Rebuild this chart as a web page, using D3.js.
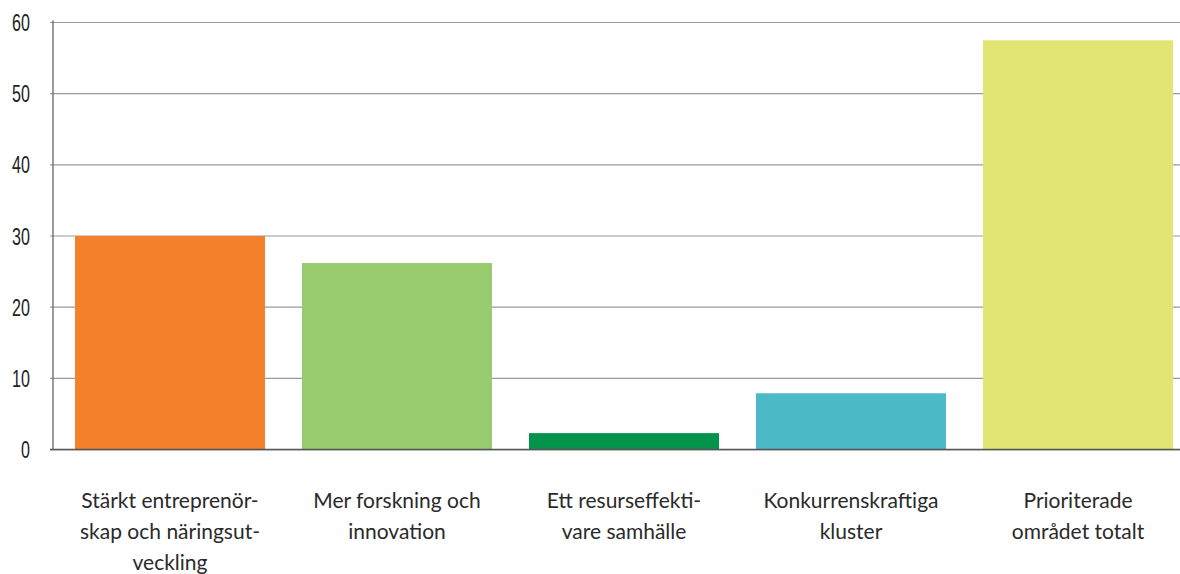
<!DOCTYPE html>
<html><head><meta charset="utf-8">
<script src="https://cdn.jsdelivr.net/npm/d3@7"></script>
<style>body{margin:0;background:#fff}svg{display:block}</style>
</head><body>
<svg id="c" width="1180" height="574"></svg>
<script>
const categories = [
  ["Stärkt entreprenör-", "skap och näringsut-", "veckling"],
  ["Mer forskning och", "innovation"],
  ["Ett resurseffekti-", "vare samhälle"],
  ["Konkurrenskraftiga", "kluster"],
  ["Prioriterade", "området totalt"]
];
const values = [30.0, 26.2, 2.3, 7.9, 57.5];
const colors = ["#F3812B", "#97CB6E", "#03934A", "#4BB9C6", "#E2E573"];
const yTicks = [0, 10, 20, 30, 40, 50, 60];

const svg = d3.select("#c");
const x0 = 53, y0 = 449.5, yTop = 22.5, right = 1180;
const x = d3.scaleBand().domain(d3.range(categories.length)).range([x0, 1195]).paddingInner(0.163).paddingOuter(0.097);
const y = d3.scaleLinear().domain([0, 60]).range([y0, yTop]);

// gridlines
svg.append("g").selectAll("line").data(yTicks.filter(d => d > 0)).join("line")
  .attr("x1", x0 - 3).attr("x2", right).attr("y1", d => y(d)).attr("y2", d => y(d))
  .attr("stroke", "#9a9a9a").attr("stroke-width", 1.2);

// bars
svg.append("g").selectAll("rect").data(values).join("rect")
  .attr("x", (d, i) => x(i)).attr("width", x.bandwidth())
  .attr("y", d => y(d)).attr("height", d => y0 - y(d))
  .attr("fill", (d, i) => colors[i]);

// zero line
svg.append("line").attr("x1", x0 - 3).attr("x2", right).attr("y1", y0 + 0.5).attr("y2", y0 + 0.5)
  .attr("stroke", "#cfcfcf").attr("stroke-width", 1.5);
svg.append("line").attr("x1", x0 - 3).attr("x2", right).attr("y1", y0).attr("y2", y0)
  .attr("stroke", "#555").attr("stroke-width", 1.3);
// y axis line
svg.append("line").attr("x1", x0).attr("x2", x0).attr("y1", yTop - 2).attr("y2", y0)
  .attr("stroke", "#666").attr("stroke-width", 1.3);

// y tick labels (condensed)
svg.append("g").selectAll("text").data(yTicks).join("text")
  .attr("transform", d => `translate(30,${y(d) + 8.5}) scale(0.7,1)`)
  .attr("text-anchor", "end")
  .attr("font-family", "'Liberation Sans', Arial, sans-serif")
  .attr("font-size", 23).attr("fill", "#222")
  .text(d => d);

// category labels
const cg = svg.append("g");
categories.forEach((lines, i) => {
  const t = cg.append("text").attr("text-anchor", "middle")
    .attr("font-family", "Lato, 'Open Sans', sans-serif").attr("font-size", 21).attr("fill", "#2a2a2a");
  lines.forEach((l, j) => {
    t.append("tspan").attr("x", x(i) + x.bandwidth() / 2).attr("y", 508 + j * 31).text(l);
  });
});
</script>
</body></html>
